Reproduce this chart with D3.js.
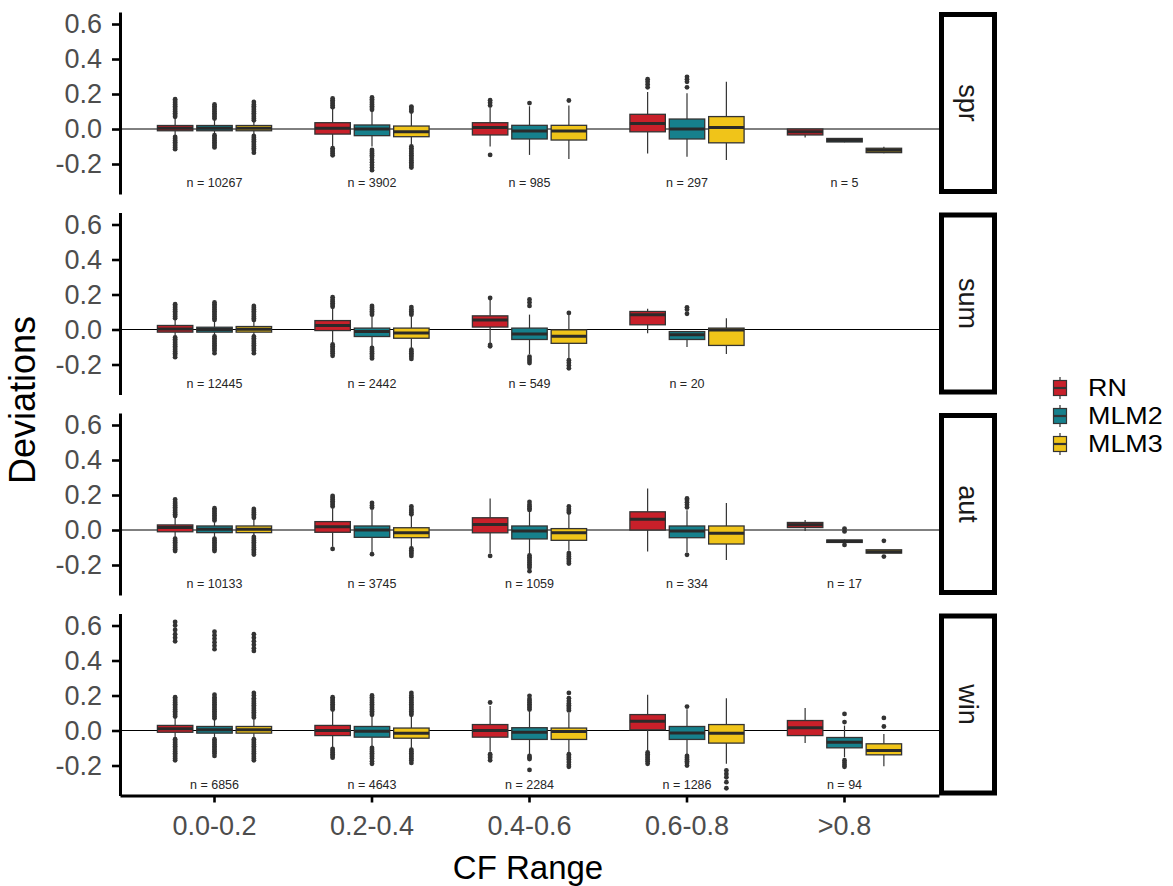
<!DOCTYPE html>
<html>
<head>
<meta charset="utf-8">
<script src="https://cdn.jsdelivr.net/npm/d3@7"></script>
<style>
  html, body { margin: 0; padding: 0; background: #ffffff; }
  svg { display: block; font-family: "Liberation Sans", Arial, sans-serif; }
</style>
</head>
<body>
<svg id="chart" width="1173" height="886"></svg>
<script>
// ---- data -----------------------------------------------------------
const seasons = ["spr", "sum", "aut", "win"];
const cfRanges = ["0.0-0.2", "0.2-0.4", "0.4-0.6", "0.6-0.8", ">0.8"];
const models = ["RN", "MLM2", "MLM3"];
const modelColors = ["#C8202A", "#16808C", "#F0C419"];
const yTicks = [-0.2, 0.0, 0.2, 0.4, 0.6];

// sample sizes per season (rows) and CF range (columns)
const nCounts = [
  [10267, 3902, 985, 297, 5],
  [12445, 2442, 549, 20, null],
  [10133, 3745, 1059, 334, 17],
  [6856, 4643, 2284, 1286, 94]
];

// box statistics: [range, model, lowerWhisker, q1, median, q3, upperWhisker]
const sprBoxes = [
  ["0.0-0.2", "RN",   -0.040, -0.010,  0.005, 0.020, 0.060],
  ["0.0-0.2", "MLM2", -0.030, -0.010,  0.005, 0.020, 0.050],
  ["0.0-0.2", "MLM3", -0.035, -0.010,  0.005, 0.020, 0.045],
  ["0.2-0.4", "RN",   -0.100, -0.029,  0.004, 0.036, 0.115],
  ["0.2-0.4", "MLM2", -0.100, -0.038,  0.000, 0.023, 0.100],
  ["0.2-0.4", "MLM3", -0.090, -0.044, -0.015, 0.017, 0.090],
  ["0.4-0.6", "RN",   -0.100, -0.034,  0.008, 0.036, 0.125],
  ["0.4-0.6", "MLM2", -0.148, -0.057, -0.012, 0.021, 0.130],
  ["0.4-0.6", "MLM3", -0.172, -0.063, -0.012, 0.021, 0.135],
  ["0.6-0.8", "RN",   -0.140, -0.016,  0.032, 0.084, 0.212],
  ["0.6-0.8", "MLM2", -0.158, -0.057,  0.000, 0.057, 0.205],
  ["0.6-0.8", "MLM3", -0.177, -0.079,  0.008, 0.071, 0.270],
  [">0.8",    "RN",   -0.048, -0.034, -0.015, 0.000, 0.000],
  [">0.8",    "MLM2", -0.076, -0.074, -0.064, -0.054, -0.054],
  [">0.8",    "MLM3", -0.138, -0.135, -0.122, -0.110, -0.102]
];
const sumBoxes = [
  ["0.0-0.2", "RN",   -0.035, -0.015,  0.003, 0.023, 0.055],
  ["0.0-0.2", "MLM2", -0.030, -0.015,  0.000, 0.013, 0.045],
  ["0.0-0.2", "MLM3", -0.030, -0.015,  0.002, 0.017, 0.045],
  ["0.2-0.4", "RN",   -0.075, -0.006,  0.023, 0.051, 0.120],
  ["0.2-0.4", "MLM2", -0.095, -0.040, -0.011, 0.008, 0.075],
  ["0.2-0.4", "MLM3", -0.105, -0.050, -0.020, 0.008, 0.075],
  ["0.4-0.6", "RN",   -0.078,  0.014,  0.055, 0.078, 0.170],
  ["0.4-0.6", "MLM2", -0.140, -0.057, -0.025, 0.008, 0.085],
  ["0.4-0.6", "MLM3", -0.165, -0.079, -0.038, -0.002, 0.085],
  ["0.6-0.8", "RN",   -0.021,  0.027,  0.084, 0.103, 0.118],
  ["0.6-0.8", "MLM2", -0.100, -0.057, -0.030, -0.012, -0.012],
  ["0.6-0.8", "MLM3", -0.140, -0.091, -0.003, 0.008, 0.065]
];
const autBoxes = [
  ["0.0-0.2", "RN",   -0.040, -0.010,  0.015, 0.029, 0.070],
  ["0.0-0.2", "MLM2", -0.040, -0.015,  0.004, 0.023, 0.045],
  ["0.0-0.2", "MLM3", -0.035, -0.015,  0.004, 0.023, 0.060],
  ["0.2-0.4", "RN",   -0.095, -0.013,  0.019, 0.048, 0.125],
  ["0.2-0.4", "MLM2", -0.130, -0.042,  0.000, 0.023, 0.115],
  ["0.2-0.4", "MLM3", -0.100, -0.044, -0.015, 0.013, 0.080],
  ["0.4-0.6", "RN",   -0.133, -0.016,  0.032, 0.070, 0.180],
  ["0.4-0.6", "MLM2", -0.138, -0.051, -0.006, 0.023, 0.105],
  ["0.4-0.6", "MLM3", -0.118, -0.059, -0.016, 0.008, 0.090],
  ["0.6-0.8", "RN",   -0.123,  0.000,  0.061, 0.104, 0.237],
  ["0.6-0.8", "MLM2", -0.129, -0.044, -0.006, 0.023, 0.113],
  ["0.6-0.8", "MLM3", -0.171, -0.080, -0.019, 0.023, 0.155],
  [">0.8",    "RN",   -0.005,  0.014,  0.030, 0.043, 0.057],
  [">0.8",    "MLM2", -0.073, -0.071, -0.064, -0.057, -0.054],
  [">0.8",    "MLM3", -0.132, -0.132, -0.124, -0.113, -0.113]
];
const winBoxes = [
  ["0.0-0.2", "RN",   -0.040, -0.010,  0.010, 0.029, 0.070],
  ["0.0-0.2", "MLM2", -0.040, -0.015,  0.004, 0.023, 0.060],
  ["0.0-0.2", "MLM3", -0.040, -0.015,  0.004, 0.023, 0.065],
  ["0.2-0.4", "RN",   -0.100, -0.029,  0.000, 0.029, 0.110],
  ["0.2-0.4", "MLM2", -0.090, -0.038, -0.004, 0.023, 0.080],
  ["0.2-0.4", "MLM3", -0.100, -0.044, -0.015, 0.014, 0.080],
  ["0.4-0.6", "RN",   -0.122, -0.038,  0.000, 0.034, 0.140],
  ["0.4-0.6", "MLM2", -0.135, -0.051, -0.010, 0.016, 0.110],
  ["0.4-0.6", "MLM3", -0.128, -0.051, -0.006, 0.014, 0.100],
  ["0.6-0.8", "RN",   -0.115,  0.004,  0.053, 0.091, 0.205],
  ["0.6-0.8", "MLM2", -0.135, -0.051, -0.014, 0.023, 0.122],
  ["0.6-0.8", "MLM3", -0.190, -0.072, -0.016, 0.034, 0.185],
  [">0.8",    "RN",   -0.072, -0.029,  0.016, 0.057, 0.128],
  [">0.8",    "MLM2", -0.152, -0.099, -0.067, -0.040, 0.028],
  [">0.8",    "MLM3", -0.204, -0.139, -0.114, -0.076, -0.020]
];

// outlying points: [range, model, values]
const sprOutliers = [
  ["0.0-0.2", "RN",   [0.07, 0.08, 0.09, 0.10, 0.11, 0.12, 0.13, 0.14, 0.15, 0.16, 0.17, -0.045, -0.055, -0.065, -0.075, -0.085, -0.095, -0.105, -0.115]],
  ["0.0-0.2", "MLM2", [0.06, 0.07, 0.08, 0.09, 0.10, 0.11, 0.12, 0.13, 0.14, -0.035, -0.045, -0.055, -0.065, -0.075, -0.085, -0.095, -0.105]],
  ["0.0-0.2", "MLM3", [0.05, 0.06, 0.07, 0.08, 0.09, 0.10, 0.11, 0.12, 0.13, 0.14, 0.155, -0.04, -0.05, -0.06, -0.07, -0.08, -0.09, -0.10, -0.11, -0.12, -0.135]],
  ["0.2-0.4", "RN",   [0.125, 0.135, 0.145, 0.155, 0.165, 0.175, -0.11, -0.12, -0.13, -0.14, -0.15]],
  ["0.2-0.4", "MLM2", [0.11, 0.12, 0.13, 0.14, 0.15, 0.16, 0.17, 0.18, -0.12, -0.13, -0.14, -0.15, -0.16, -0.175, -0.19, -0.205, -0.22, -0.235]],
  ["0.2-0.4", "MLM3", [0.10, 0.11, 0.12, 0.128, -0.10, -0.11, -0.12, -0.13, -0.14, -0.15, -0.16, -0.17, -0.18, -0.19, -0.20, -0.21, -0.22]],
  ["0.4-0.6", "RN",   [0.135, 0.15, 0.165, -0.148]],
  ["0.4-0.6", "MLM2", [0.148]],
  ["0.4-0.6", "MLM3", [0.163]],
  ["0.6-0.8", "RN",   [0.238, 0.255, 0.27, 0.285]],
  ["0.6-0.8", "MLM2", [0.238, 0.27, 0.285, 0.298]]
];
const sumOutliers = [
  ["0.0-0.2", "RN",   [0.065, 0.075, 0.085, 0.095, 0.105, 0.115, 0.125, 0.135, 0.145, -0.045, -0.055, -0.065, -0.075, -0.085, -0.095, -0.105, -0.115, -0.125, -0.135, -0.145, -0.158]],
  ["0.0-0.2", "MLM2", [0.055, 0.065, 0.075, 0.085, 0.095, 0.105, 0.115, 0.125, 0.135, 0.145, 0.155, -0.04, -0.05, -0.06, -0.07, -0.08, -0.09, -0.10, -0.11, -0.12, -0.135]],
  ["0.0-0.2", "MLM3", [0.055, 0.065, 0.075, 0.085, 0.095, 0.105, 0.115, 0.125, 0.135, -0.04, -0.05, -0.06, -0.07, -0.08, -0.09, -0.10, -0.11, -0.12, -0.135]],
  ["0.2-0.4", "RN",   [0.13, 0.14, 0.15, 0.16, 0.17, 0.185, -0.085, -0.095, -0.105, -0.115, -0.125, -0.135, -0.15]],
  ["0.2-0.4", "MLM2", [0.085, 0.095, 0.105, 0.115, 0.125, 0.135, -0.105, -0.115, -0.125, -0.135, -0.145, -0.155, -0.165]],
  ["0.2-0.4", "MLM3", [0.085, 0.095, 0.105, 0.115, 0.128, -0.115, -0.125, -0.135, -0.145, -0.155, -0.168]],
  ["0.4-0.6", "RN",   [0.18, -0.088, -0.096]],
  ["0.4-0.6", "MLM2", [0.135, 0.155, 0.172, -0.155, -0.168, -0.18, -0.192]],
  ["0.4-0.6", "MLM3", [0.095, -0.175, -0.19, -0.205, -0.222]],
  ["0.6-0.8", "MLM2", [0.09, 0.115, 0.127]]
];
const autOutliers = [
  ["0.0-0.2", "RN",   [0.08, 0.09, 0.10, 0.11, 0.12, 0.13, 0.14, 0.15, 0.16, 0.175, -0.05, -0.06, -0.07, -0.08, -0.09, -0.10, -0.11, -0.12]],
  ["0.0-0.2", "MLM2", [0.055, 0.065, 0.075, 0.085, 0.095, 0.105, 0.115, 0.125, -0.05, -0.06, -0.07, -0.08, -0.09, -0.10, -0.11, -0.12]],
  ["0.0-0.2", "MLM3", [0.07, 0.08, 0.09, 0.10, 0.11, 0.12, -0.04, -0.05, -0.06, -0.07, -0.08, -0.09, -0.10, -0.11, -0.12, -0.13, -0.14]],
  ["0.2-0.4", "RN",   [0.135, 0.145, 0.155, 0.165, 0.175, 0.185, 0.195, -0.108]],
  ["0.2-0.4", "MLM2", [0.128, 0.14, 0.155, -0.138]],
  ["0.2-0.4", "MLM3", [0.09, 0.10, 0.11, 0.12, 0.135, -0.105, -0.115, -0.125, -0.135, -0.148]],
  ["0.4-0.6", "RN",   [-0.148]],
  ["0.4-0.6", "MLM2", [0.115, 0.125, 0.135, 0.145, 0.16, -0.145, -0.155, -0.165, -0.175, -0.185, -0.195, -0.205, -0.215, -0.235]],
  ["0.4-0.6", "MLM3", [0.10, 0.11, 0.12, 0.135, -0.132, -0.142, -0.152, -0.162, -0.172, -0.182, -0.192]],
  ["0.6-0.8", "MLM2", [0.13, 0.145, 0.158, 0.172, 0.18, -0.142]],
  [">0.8",    "MLM2", [0.008, -0.008, -0.085]],
  [">0.8",    "MLM3", [-0.062, -0.152]]
];
const winOutliers = [
  ["0.0-0.2", "RN",   [0.08, 0.09, 0.10, 0.11, 0.12, 0.13, 0.14, 0.15, 0.16, 0.17, 0.18, 0.19, 0.51, 0.53, 0.55, 0.575, 0.60, 0.62, -0.05, -0.06, -0.07, -0.08, -0.09, -0.10, -0.11, -0.12, -0.13, -0.14, -0.15, -0.16, -0.17]],
  ["0.0-0.2", "MLM2", [0.07, 0.08, 0.09, 0.10, 0.11, 0.12, 0.13, 0.14, 0.15, 0.16, 0.17, 0.18, 0.19, 0.205, 0.465, 0.485, 0.505, 0.525, 0.545, 0.565, -0.05, -0.06, -0.07, -0.08, -0.09, -0.10, -0.11, -0.12, -0.13, -0.145]],
  ["0.0-0.2", "MLM3", [0.075, 0.085, 0.095, 0.105, 0.115, 0.125, 0.135, 0.145, 0.155, 0.165, 0.175, 0.185, 0.20, 0.215, 0.455, 0.47, 0.49, 0.51, 0.53, 0.55, -0.05, -0.06, -0.07, -0.08, -0.09, -0.10, -0.11, -0.12, -0.13, -0.14, -0.15, -0.16, -0.17]],
  ["0.2-0.4", "RN",   [0.12, 0.13, 0.14, 0.15, 0.16, 0.17, 0.18, 0.19, -0.105, -0.115, -0.125, -0.135, -0.145, -0.155]],
  ["0.2-0.4", "MLM2", [0.09, 0.10, 0.11, 0.12, 0.13, 0.14, 0.15, 0.16, 0.17, 0.18, 0.19, 0.20, -0.10, -0.11, -0.12, -0.13, -0.14, -0.15, -0.16, -0.175, -0.19]],
  ["0.2-0.4", "MLM3", [0.09, 0.10, 0.11, 0.12, 0.13, 0.14, 0.15, 0.16, 0.17, 0.18, 0.19, 0.20, 0.215, -0.11, -0.12, -0.13, -0.14, -0.15, -0.16, -0.17, -0.185]],
  ["0.4-0.6", "RN",   [0.16, -0.135, -0.145, -0.155, -0.17]],
  ["0.4-0.6", "MLM2", [0.12, 0.13, 0.14, 0.15, 0.16, 0.17, 0.18, 0.198, -0.145, -0.155, -0.163, -0.225]],
  ["0.4-0.6", "MLM3", [0.115, 0.125, 0.135, 0.145, 0.155, 0.168, 0.185, 0.215, -0.135, -0.145, -0.155, -0.165, -0.18, -0.195, -0.207]],
  ["0.6-0.8", "RN",   [-0.125, -0.135, -0.145, -0.155, -0.165, -0.175, -0.19]],
  ["0.6-0.8", "MLM2", [0.137, -0.145, -0.155, -0.165, -0.175, -0.185, -0.2]],
  ["0.6-0.8", "MLM3", [-0.228, -0.248, -0.267, -0.295, -0.33]],
  [">0.8",    "MLM2", [0.048, 0.095, -0.17, -0.183, -0.196, -0.207]],
  [">0.8",    "MLM3", [0.023, 0.072]]
];

const boxesBySeason = [sprBoxes, sumBoxes, autBoxes, winBoxes];
const outliersBySeason = [sprOutliers, sumOutliers, autOutliers, winOutliers];

// ---- layout ---------------------------------------------------------
const svg = d3.select("#chart");
const left = 120, right = 939;
const panelTop0 = 12, panelStep = 200.5, panelH = 182;
const ink = "#333333";
const axisText = "#4D4D4D";

const x = d3.scaleBand().domain(cfRanges).range([left, right])
  .paddingInner(0).paddingOuter(0.1);
const step = x.step();
const xm = d3.scaleBand().domain(models).range([-0.375 * step, 0.375 * step]);
const boxW = xm.bandwidth() * 0.9;
const color = d3.scaleOrdinal().domain(models).range(modelColors);

seasons.forEach((season, si) => {
  const top = panelTop0 + si * panelStep;
  const y = d3.scaleLinear().domain([-0.3714, 0.6686]).range([top + panelH, top]);
  const g = svg.append("g").attr("class", "panel-" + season);

  // zero reference line
  g.append("line")
    .attr("x1", left).attr("x2", right)
    .attr("y1", y(0)).attr("y2", y(0))
    .attr("stroke", "#000").attr("stroke-width", 1);

  const cx = d => x(d[0]) + step / 2 + xm(d[1]) + xm.bandwidth() / 2;

  // outliers
  const pts = [];
  outliersBySeason[si].forEach(o => o[2].forEach(v => pts.push([o[0], o[1], v])));
  g.append("g").selectAll("circle").data(pts).join("circle")
    .attr("cx", cx).attr("cy", d => y(d[2])).attr("r", 2.4)
    .attr("fill", ink);

  const boxes = g.append("g").selectAll("g").data(boxesBySeason[si]).join("g");
  // whiskers
  boxes.append("line")
    .attr("x1", cx).attr("x2", cx)
    .attr("y1", d => y(d[6])).attr("y2", d => y(d[5]))
    .attr("stroke", ink).attr("stroke-width", 1.2);
  boxes.append("line")
    .attr("x1", cx).attr("x2", cx)
    .attr("y1", d => y(d[3])).attr("y2", d => y(d[2]))
    .attr("stroke", ink).attr("stroke-width", 1.2);
  // boxes
  boxes.append("rect")
    .attr("x", d => cx(d) - boxW / 2).attr("width", boxW)
    .attr("y", d => y(d[5])).attr("height", d => Math.max(0.5, y(d[3]) - y(d[5])))
    .attr("fill", d => color(d[1]))
    .attr("stroke", ink).attr("stroke-width", 1.3);
  // medians
  boxes.append("line")
    .attr("x1", d => cx(d) - boxW / 2).attr("x2", d => cx(d) + boxW / 2)
    .attr("y1", d => y(d[4])).attr("y2", d => y(d[4]))
    .attr("stroke", "#2a2a2a").attr("stroke-width", 3);

  // sample-size labels
  const nl = cfRanges.map((r, i) => [r, nCounts[si][i]]).filter(d => d[1] != null);
  g.append("g").selectAll("text").data(nl).join("text")
    .attr("x", d => x(d[0]) + step / 2).attr("y", y(-0.31))
    .attr("text-anchor", "middle").attr("dominant-baseline", "central")
    .attr("font-size", 12.5).attr("fill", "#262626")
    .text(d => "n = " + d[1]);

  // y axis
  const ya = g.append("g").attr("transform", `translate(${left},0)`)
    .call(d3.axisLeft(y).tickValues(yTicks).tickSizeOuter(0).tickSizeInner(8)
      .tickPadding(10).tickFormat(d => d.toFixed(1)));
  ya.select(".domain").attr("stroke", "#000").attr("stroke-width", 3);
  ya.selectAll(".tick line").attr("stroke", "#000").attr("stroke-width", 2.6);
  ya.selectAll(".tick text").attr("fill", axisText).attr("font-size", 27)
    .attr("font-family", "Liberation Sans, Arial, sans-serif");

  // facet strip
  svg.append("rect")
    .attr("x", 941.5).attr("y", top + 2.5).attr("width", 53).attr("height", panelH - 5)
    .attr("fill", "#fff").attr("stroke", "#000").attr("stroke-width", 5);
  svg.append("text")
    .attr("transform", `translate(968,${top + panelH / 2}) rotate(90)`)
    .attr("text-anchor", "middle").attr("dominant-baseline", "central")
    .attr("font-size", 27).attr("fill", "#1A1A1A")
    .text(season);

  // x axis on the bottom panel only
  if (si === seasons.length - 1) {
    const xa = svg.append("g").attr("transform", `translate(0,${top + panelH})`)
      .call(d3.axisBottom(x).tickSizeOuter(0).tickSizeInner(7).tickPadding(13));
    xa.select(".domain").attr("stroke", "#000").attr("stroke-width", 3);
    xa.selectAll(".tick line").attr("stroke", "#000").attr("stroke-width", 2.6);
    xa.selectAll(".tick text").attr("fill", axisText).attr("font-size", 27)
      .attr("font-family", "Liberation Sans, Arial, sans-serif");
  }
});

// axis titles
svg.append("text")
  .attr("transform", "translate(35,400) rotate(-90)")
  .attr("text-anchor", "middle").attr("font-size", 36).attr("fill", "#000")
  .text("Deviations");
svg.append("text")
  .attr("x", 528).attr("y", 879)
  .attr("text-anchor", "middle").attr("font-size", 33).attr("fill", "#000")
  .text("CF Range");

// legend
const legend = svg.append("g").attr("class", "legend");
const legY = d3.scalePoint().domain(models).range([388, 444]);
const key = legend.selectAll("g").data(models).join("g")
  .attr("transform", d => `translate(1060,${legY(d)})`);
key.append("line").attr("x1", 0).attr("x2", 0).attr("y1", -11).attr("y2", 11)
  .attr("stroke", ink).attr("stroke-width", 1.2);
key.append("rect").attr("x", -6.5).attr("y", -7.5).attr("width", 13).attr("height", 15)
  .attr("fill", d => color(d)).attr("stroke", ink).attr("stroke-width", 1.2);
key.append("line").attr("x1", -6.5).attr("x2", 6.5).attr("y1", 0).attr("y2", 0)
  .attr("stroke", ink).attr("stroke-width", 2.2);
key.append("text")
  .attr("transform", "translate(28,0) scale(1.12,1)")
  .attr("dominant-baseline", "central").attr("font-size", 24).attr("fill", "#000")
  .text(d => d);
</script>
</body>
</html>
